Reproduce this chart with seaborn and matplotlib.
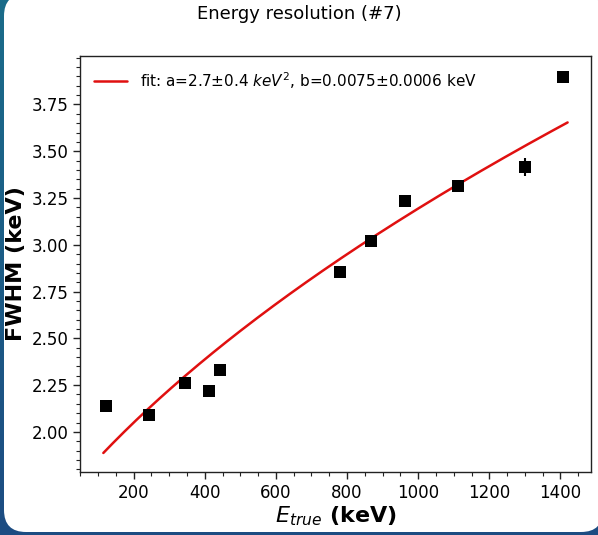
import numpy as np
import pandas as pd
import matplotlib
matplotlib.use("Agg")
import matplotlib.pyplot as plt
import seaborn as sns
from matplotlib.patches import FancyBboxPatch

# Data (Eu-152 lines)
energies = [121.8, 244.7, 344.3, 411.1, 444.0, 778.9, 867.4, 964.1, 1112.1, 1299.1, 1408.0]
fwhm = [2.14, 2.09, 2.263, 2.22, 2.333, 2.853, 3.02, 3.235, 3.315, 3.417, 3.895]
fwhm_err = [0.015, 0.012, 0.012, 0.02, 0.015, 0.012, 0.012, 0.012, 0.012, 0.048, 0.012]
fit_a = 2.7
fit_b = 0.0075
fit_range = [115.0, 1420.0]

sns.set_style("ticks")
plt.rcParams['font.family'] = ['DejaVu Sans']
plt.rcParams['text.color'] = 'black'
plt.rcParams['axes.labelcolor'] = 'black'

fig = plt.figure(figsize=(5.98, 5.35), dpi=100)
fig.patch.set_facecolor('#1e5a82')
# background gradient (teal at top to navy at bottom)
top = np.array([0x1a, 0x6c, 0x8a]) / 255.0
bot = np.array([0x1d, 0x4c, 0x82]) / 255.0
t = np.linspace(0, 1, 535)[:, None, None]
grad = np.repeat(top * (1 - t) + bot * t, 598, axis=1)
fig.figimage(grad, xo=0, yo=0, origin='upper', zorder=-20)
panel = FancyBboxPatch((4, 3), 599, 538, boxstyle="round,pad=0,rounding_size=22",
                       transform=None, facecolor='white', edgecolor='none', zorder=-10)
fig.patches.append(panel)

ax = fig.add_axes([0.134, 0.118, 0.854, 0.777])

df = pd.DataFrame({"E": energies, "FWHM": fwhm})
e_fit = np.linspace(fit_range[0], fit_range[1], 200)
fit_df = pd.DataFrame({"E": e_fit, "FWHM": np.sqrt(fit_a + fit_b * e_fit)})

sns.lineplot(data=fit_df, x="E", y="FWHM", ax=ax, color='#e01010', linewidth=1.8,
             label=r"fit: a=2.7$\pm$0.4 $keV^2$, b=0.0075$\pm$0.0006 keV")
ax.errorbar(energies, fwhm, yerr=fwhm_err, fmt='none', ecolor='black', elinewidth=1.5, zorder=3)
sns.scatterplot(data=df, x="E", y="FWHM", ax=ax, marker='s', color='black', s=70,
                edgecolor='black', linewidth=0, zorder=4)

yt = [2.00, 2.25, 2.50, 2.75, 3.00, 3.25, 3.50, 3.75]
ax.set_yticks(yt)
ax.set_yticklabels([f"{v:.2f}" for v in yt])
ax.set_xticks([200, 400, 600, 800, 1000, 1200, 1400])
ax.minorticks_on()
ax.tick_params(axis='both', which='major', labelsize=12, length=5, width=1, colors='#222222', labelcolor='black')
ax.tick_params(axis='both', which='minor', length=3, width=0.8, colors='#222222')
for s in ax.spines.values():
    s.set_color('#222222')
    s.set_linewidth(1.0)

ax.set_xlabel(r"$E_{true}$ (keV)", fontsize=16, fontweight='bold', labelpad=2, color='black')
ax.set_ylabel("FWHM (keV)", fontsize=16, fontweight='bold', labelpad=4, color='black')
fig.suptitle("Energy resolution (#7)", fontsize=13, y=0.99, color='black')

leg = ax.legend(loc='upper left', frameon=False, fontsize=11, handlelength=2.2)
for txt in leg.get_texts():
    txt.set_color('black')

fig.savefig("out.png", dpi=100, facecolor=fig.get_facecolor())
